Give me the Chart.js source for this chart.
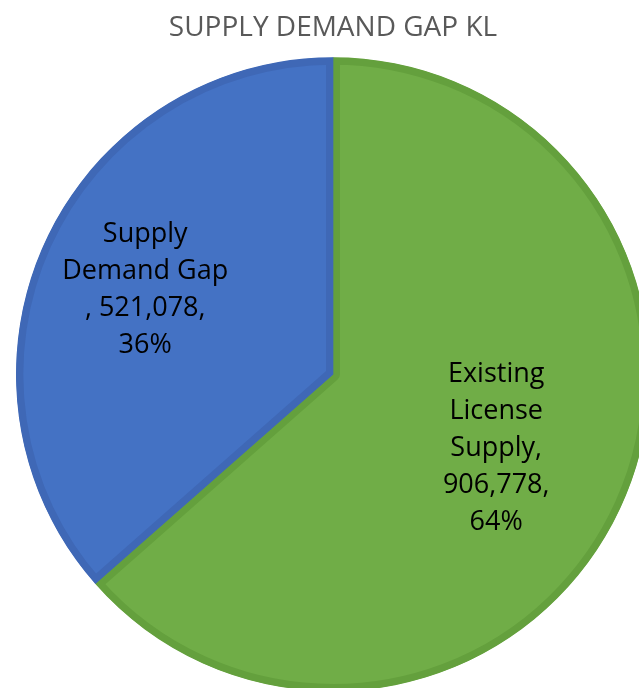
<!DOCTYPE html>
<html>
<head>
<meta charset="utf-8">
<script src="https://cdn.jsdelivr.net/npm/chart.js@4/dist/chart.umd.min.js"></script>
<style>
  html, body { margin: 0; padding: 0; background: #fff; overflow: hidden; }
  #wrap { position: absolute; left: 0; top: 0; }
</style>
</head>
<body>
<div id="wrap"><canvas id="gapChart" width="686" height="720"></canvas></div>
<script>
// ================== DADOS ==================
const titleText = "SUPPLY DEMAND GAP KL";
const categories = ["Existing License Supply", "Supply Demand Gap"];
const values = [906778, 521078];
const labelLines = [
    ["Existing", "License", "Supply,", "906,778,", "64%"],
    ["Supply", "Demand Gap", ", 521,078,", "36%"]
];

const fillColors = ["#70AD47", "#4472C4"];
const borderColors = ["#64A03D", "#3F68B6"];
// fraction of radius where each label sits (Excel best fit)
const labelDist = [0.565, 0.65];

// ================== RÓTULOS ==================
const pieLabels = {
    id: "pieLabels",
    afterDatasetsDraw(chart) {
        const ctx = chart.ctx;
        const meta = chart.getDatasetMeta(0);
        ctx.save();
        ctx.font = "27px 'Open Sans'";
        ctx.fillStyle = "#000";
        ctx.textAlign = "center";
        ctx.textBaseline = "middle";
        const lh = 37;
        meta.data.forEach((arc, i) => {
            const p = arc.getProps(["x", "y", "startAngle", "endAngle", "outerRadius"], true);
            const mid = (p.startAngle + p.endAngle) / 2;
            const r = p.outerRadius * labelDist[i];
            const cx = p.x + Math.cos(mid) * r;
            const cy = p.y + Math.sin(mid) * r;
            const lines = labelLines[i];
            const top = cy - (lines.length - 1) * lh / 2;
            lines.forEach((t, k) => ctx.fillText(t, cx, top + k * lh));
        });
        ctx.restore();
    }
};

// ================== GRÁFICO ==================
new Chart(document.getElementById("gapChart"), {
    type: "pie",
    data: {
        labels: categories,
        datasets: [{
            data: values,
            backgroundColor: fillColors,
            borderColor: borderColors,
            borderWidth: 7,
            borderAlign: "inner",
            radius: 317
        }]
    },
    options: {
        responsive: false,
        animation: false,
        events: [],
        layout: { padding: { left: 0, right: 20, top: 0, bottom: 23 } },
        plugins: {
            legend: { display: false },
            tooltip: { enabled: false },
            title: {
                display: true,
                text: titleText,
                color: "#595959",
                font: { family: "'Open Sans'", size: 28, weight: "normal" },
                padding: { top: 11, bottom: 7 }
            }
        }
    },
    plugins: [pieLabels]
});
</script>
</body>
</html>
